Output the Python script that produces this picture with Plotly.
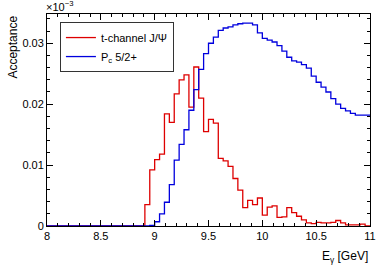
import numpy as np
import plotly.graph_objects as go

# Histogram binning: 66 bins from 8 to 11 GeV
x_min, x_max, n_bins = 8.0, 11.0, 66
bin_edges = np.linspace(x_min, x_max, n_bins + 1)

# t-channel J/psi acceptance per bin
tchannel = [0.0] * 20 + [
    0.0035, 0.0092, 0.0109, 0.0118, 0.0184, 0.0170, 0.0217, 0.0240, 0.0248, 0.0195,
    0.0261, 0.0210, 0.0155, 0.0175, 0.0169, 0.0111, 0.0107, 0.0098, 0.0078, 0.0059,
    0.0030, 0.0042, 0.0035, 0.0046, 0.0018, 0.0031, 0.0033, 0.0014, 0.0015, 0.0030,
    0.0022, 0.0016, 0.0010, 0.0005, 0.0004, 0.0006, 0.0005, 0.0005, 0.0006, 0.0009,
    0.0005, 0.0002, 0.0002, 0.0002, 0.0003, 0.0000,
]

# Pc 5/2+ acceptance per bin
pc52 = [0.0] * 21 + [
    0.0001, 0.0007, 0.0020, 0.0039, 0.0068, 0.0108, 0.0134, 0.0158, 0.0190,
    0.0224, 0.0257, 0.0283, 0.0300, 0.0310, 0.0321, 0.0325, 0.0327, 0.0330, 0.0332,
    0.0333, 0.0333, 0.0330, 0.0317, 0.0308, 0.0305, 0.0302, 0.0296, 0.0287, 0.0277,
    0.0271, 0.0269, 0.0265, 0.0259, 0.0246, 0.0236, 0.0228, 0.0220, 0.0209, 0.0200,
    0.0193, 0.0189, 0.0185, 0.0182, 0.0182, 0.0182,
]

series_names = ["t-channel J/\u03a8", "P<sub>c</sub> 5/2+"]
series_colors = ["rgb(222,0,0)", "rgb(0,0,222)"]
x_ticks = [8, 8.5, 9, 9.5, 10, 10.5, 11]
x_tick_labels = ["8", "8.5", "9", "9.5", "10", "10.5", "11"]
y_ticks = [0, 0.01, 0.02, 0.03]
y_tick_labels = ["0", "0.01", "0.02", "0.03"]

FONT = "Liberation Sans, Arial, Helvetica, sans-serif"

fig = go.Figure()
for name, vals, col in zip(series_names, [tchannel, pc52], series_colors):
    yv = list(vals) + [vals[-1]]
    fig.add_trace(go.Scatter(
        x=bin_edges, y=yv, mode="lines", name=name,
        line=dict(color=col, width=1.3, shape="hv"),
    ))

axis_common = dict(
    showline=True, linecolor="black", linewidth=1, mirror="ticks",
    ticks="inside", tickcolor="black", showgrid=False, zeroline=False,
    tickfont=dict(family=FONT, size=11, color="black"),
)

fig.update_xaxes(
    range=[x_min, x_max], tickvals=x_ticks, ticktext=x_tick_labels, ticklen=6,
    minor=dict(dtick=0.1, ticks="inside", ticklen=3, tickcolor="black", showgrid=False),
    **axis_common,
)
fig.update_yaxes(
    range=[0, 0.0348], tickvals=y_ticks, ticktext=y_tick_labels, ticklen=6,
    minor=dict(dtick=0.002, ticks="inside", ticklen=3, tickcolor="black", showgrid=False),
    **axis_common,
)

fig.update_layout(
    width=390, height=266,
    margin=dict(l=47, r=20, t=14, b=40),
    paper_bgcolor="white", plot_bgcolor="white",
    font=dict(family=FONT, size=11, color="black"),
    legend=dict(
        x=0.04, y=0.962, xanchor="left", yanchor="top",
        bgcolor="white", bordercolor="#333333", borderwidth=1,
        font=dict(family=FONT, size=11, color="black"),
        itemwidth=30,
    ),
    showlegend=True,
    annotations=[
        dict(text="Acceptance", textangle=-90, xref="paper", yref="paper",
             x=-0.108, y=1.0, xanchor="center", yanchor="top", showarrow=False,
             font=dict(family=FONT, size=12, color="black")),
        dict(text="\u00d710<sup>\u22123</sup>", xref="paper", yref="paper",
             x=-0.008, y=0.995, xanchor="left", yanchor="bottom", showarrow=False,
             font=dict(family=FONT, size=11, color="black")),
        dict(text="E<sub>\u03b3</sub> [GeV]", xref="paper", yref="paper",
             x=1.0, y=-0.1, xanchor="right", yanchor="top", showarrow=False,
             font=dict(family=FONT, size=12, color="black")),
    ],
)

fig.write_html(
    "out.html",
    config={"displayModeBar": False},
    post_script="document.body.style.margin='0';document.body.style.padding='0';",
)
